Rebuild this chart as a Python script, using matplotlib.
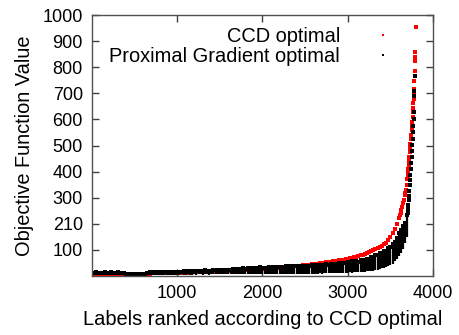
import numpy as np
import matplotlib
matplotlib.use('Agg')
import matplotlib.pyplot as plt

plt.rcParams['font.family'] = ['Liberation Sans', 'DejaVu Sans']

# labels ranked by CCD optimal value, sampled every 25 ranks
ranks = np.arange(0, 3701, 25)

ccd_values = [
	8, 8, 8, 8, 8, 8, 8, 8,
	8, 8, 8, 8, 8, 8, 8, 8,
	6, 6, 6, 6, 6, 6, 6, 6,
	6, 7, 8, 9, 10, 10, 10, 10,
	10, 11, 11, 11, 11, 12, 12, 12,
	12, 12, 13, 13, 13, 13, 14, 14,
	14, 14, 15, 15, 15, 16, 16, 16,
	17, 17, 17, 18, 18, 18, 19, 19,
	19, 20, 20, 21, 21, 22, 22, 23,
	23, 24, 24, 25, 25, 26, 26, 27,
	27, 28, 28, 29, 30, 30, 31, 32,
	32, 33, 34, 35, 35, 36, 37, 38,
	39, 40, 40, 41, 42, 43, 44, 45,
	46, 47, 48, 49, 50, 51, 52, 53,
	54, 56, 57, 58, 60, 61, 63, 64,
	66, 68, 70, 72, 74, 77, 80, 82,
	84, 88, 92, 96, 100, 104, 108, 112,
	116, 121, 128, 138, 150, 163, 180, 200,
	222, 248, 278, 318, 370,
]

# upper and lower edge of the proximal gradient cloud at the same ranks
pg_high = [
	13, 11, 14, 12, 13, 11, 14, 12,
	12, 14, 13, 11, 15, 13, 12, 13,
	7, 7, 6, 7, 7, 7, 6, 7,
	7, 8, 12, 14, 15, 13, 16, 14,
	15, 16, 14, 17, 16, 15, 17, 16,
	16, 17, 16, 18, 17, 19, 17, 18,
	18, 19, 21, 19, 20, 22, 20, 21,
	21, 22, 24, 22, 23, 25, 23, 24,
	25, 24, 26, 27, 25, 28, 27, 29,
	28, 30, 29, 31, 30, 32, 31, 33,
	30, 32, 31, 33, 32, 34, 33, 35,
	34, 36, 35, 37, 36, 38, 37, 39,
	37, 36, 38, 39, 37, 40, 39, 41,
	40, 42, 41, 43, 44, 42, 45, 44,
	46, 45, 48, 47, 49, 48, 51, 50,
	53, 50, 56, 52, 58, 54, 60, 58,
	63, 67, 66, 72, 73, 79, 80, 87,
	88, 95, 97, 106, 113, 124, 130, 147,
	165, 178, 192, 205, 235,
]

pg_low = [
	3, 3, 3, 3, 3, 3, 3, 3,
	3, 3, 3, 3, 3, 3, 3, 3,
	3, 3, 3, 3, 3, 3, 3, 3,
	4, 4, 4, 5, 4, 5, 4, 5,
	5, 4, 5, 5, 4, 5, 5, 4,
	5, 5, 6, 5, 5, 6, 5, 5,
	6, 5, 6, 6, 5, 6, 6, 5,
	6, 6, 7, 6, 6, 7, 6, 6,
	7, 6, 7, 7, 6, 7, 7, 8,
	7, 8, 7, 8, 8, 7, 8, 8,
	6, 7, 6, 7, 7, 6, 7, 8,
	7, 8, 7, 8, 8, 7, 8, 8,
	8, 7, 8, 9, 8, 9, 8, 9,
	9, 8, 9, 10, 9, 10, 11, 10,
	10, 11, 10, 12, 11, 12, 13, 12,
	13, 14, 13, 15, 14, 16, 15, 17,
	17, 19, 18, 21, 20, 23, 25, 27,
	29, 31, 34, 38, 42, 48, 56, 66,
	75, 88, 105, 125, 150,
]

# the steep tail of both series
ccd_tail_ranks = [3610, 3620, 3630, 3640, 3650, 3660, 3670, 3680, 3690,
	3704, 3708, 3712, 3716, 3720, 3724, 3728, 3732, 3736, 3740, 3744, 3748, 3752, 3756,
	3760, 3763, 3766, 3769, 3772, 3775, 3778, 3781, 3784, 3787, 3790, 3793, 3796]
ccd_tail_values = [232, 243, 254, 266, 278, 293, 310, 330, 350,
	385, 398, 412, 427, 442, 458, 474, 490, 507, 524, 541, 558, 575, 592,
	610, 627, 645, 662, 680, 697, 715, 746, 785, 823, 840, 858, 954]
pg_tail_ranks = [3704, 3708, 3712, 3716, 3720, 3724, 3728, 3732, 3736, 3740, 3744,
	3748, 3752, 3756, 3760, 3764, 3768, 3772, 3776, 3780, 3783, 3786]
pg_tail_values = [240, 255, 272, 290, 308, 327, 347, 367, 388, 410, 432,
	455, 478, 502, 526, 550, 575, 600, 630, 688, 708, 765]

yticks = [100, 200, 300, 400, 500, 600, 700, 800, 900, 1000]
ytick_labels = ['100', '210', '300', '400', '500', '600', '700', '800', '900', '1000']
xticks = [1000, 2000, 3000, 4000]

fig = plt.figure(figsize=(4.6, 3.35), dpi=100)
ax = fig.add_axes([0.2, 0.176, 0.7413, 0.7791])

red, = ax.plot(ranks, ccd_values, 's', color='#ff0000', ms=2.6, mew=0, label='CCD optimal')
ax.plot(ccd_tail_ranks, ccd_tail_values, 's', color='#ff0000', ms=2.4, mew=0)
ax.vlines(ranks, pg_low, pg_high, color='black', lw=1.6)
ax.plot(ranks, pg_high, 's', color='black', ms=2.2, mew=0)
black, = ax.plot(pg_tail_ranks, pg_tail_values, 's', color='black', ms=2.2, mew=0, label='Proximal Gradient optimal')

ax.set_xlim(0, 4000)
ax.set_ylim(0, 1000)
ax.set_xticks(xticks)
ax.set_yticks(yticks)
ax.set_yticklabels(ytick_labels)
ax.tick_params(direction='in', length=5, width=1, top=True, right=True, labelsize=13, pad=6.5, color='#404040')
for s in ax.spines.values():
	s.set_color('#505050')
	s.set_linewidth(1)

ax.set_xlabel('Labels ranked according to CCD optimal', fontsize=14.4, labelpad=6)
ax.set_ylabel('Objective Function Value', fontsize=14.4, labelpad=6)

ax.legend([red, black], ['CCD optimal', 'Proximal Gradient optimal'], loc='upper right',
	bbox_to_anchor=(408 / 460, 1 - 27 / 335), bbox_transform=fig.transFigure,
	frameon=False, markerfirst=False, handlelength=2.5, handletextpad=0.9,
	borderpad=0, borderaxespad=0, labelspacing=0.05, fontsize=14.4, markerscale=0.7)

fig.savefig('out.png', dpi=100)
